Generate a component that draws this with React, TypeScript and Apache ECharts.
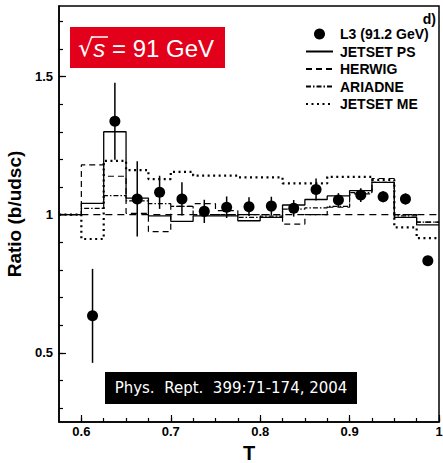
import { useEffect, useRef } from "react";
import * as echarts from "echarts";

// Histogram bin edges in T (17 bins, first one below 0.6 is the flat part)
const binEdges = [0.575, 0.6, 0.625, 0.65, 0.675, 0.7, 0.725, 0.75, 0.775, 0.8, 0.825, 0.85, 0.875, 0.9, 0.925, 0.95, 0.975, 1.0];

// Model predictions per bin
const jetsetPS = [1.0, 1.041, 1.30, 1.060, 0.996, 0.976, 0.996, 0.996, 0.978, 0.99, 1.035, 1.055, 1.068, 1.087, 1.117, 0.99, 0.963];
const herwig = [1.0, 1.18, 1.139, 1.005, 0.939, 1.03, 1.04, 1.015, 1.0, 1.0, 0.966, 1.0, 1.027, 1.075, 1.131, 1.0, 0.973];
const ariadne = [1.0, 1.023, 1.069, 1.05, 1.04, 1.03, 1.0, 1.0, 0.99, 0.995, 1.02, 1.025, 1.03, 1.08, 1.117, 0.996, 0.973];
const jetsetME = [1.0, 0.912, 1.195, 1.161, 1.129, 1.155, 1.141, 1.141, 1.135, 1.135, 1.113, 1.113, 1.137, 1.137, 1.126, 0.954, 0.915];

// L3 data points
const tCenters = [0.6125, 0.6375, 0.6625, 0.6875, 0.7125, 0.7375, 0.7625, 0.7875, 0.8125, 0.8375, 0.8625, 0.8875, 0.9125, 0.9375, 0.9625, 0.9875];
const l3 = [0.634, 1.338, 1.057, 1.081, 1.057, 1.012, 1.027, 1.029, 1.031, 1.023, 1.091, 1.053, 1.071, 1.065, 1.057, 0.833];
const l3Err = [0.17, 0.139, 0.136, 0.06, 0.06, 0.042, 0.039, 0.034, 0.034, 0.03, 0.04, 0.025, 0.025, 0.02, 0.02, 0.015];

// Axis ticks
const xMajorTicks = [0.6, 0.7, 0.8, 0.9, 1.0];
const xMinorTicks = [0.6, 0.625, 0.65, 0.675, 0.7, 0.725, 0.75, 0.775, 0.8, 0.825, 0.85, 0.875, 0.9, 0.925, 0.95, 0.975, 1.0];
const yMajorTicks = [0.5, 1.0, 1.5];
const yMinorTicks = [0.3, 0.4, 0.5, 0.6, 0.7, 0.8, 0.9, 1.0, 1.1, 1.2, 1.3, 1.4, 1.5, 1.6, 1.7];

const seriesNames = ["L3 (91.2 GeV)", "JETSET PS", "HERWIG", "ARIADNE", "JETSET ME"];

const FONT = "Liberation Sans";

function stepData(vals: number[]) {
  return binEdges.map((e, i) => [e, vals[Math.min(i, vals.length - 1)]]);
}

const fmt = (v: number) => String(parseFloat(Number(v).toFixed(3)));

export default function App() {
  const ref = useRef<HTMLDivElement>(null);
  useEffect(() => {
    if (!ref.current) return;
    const chart = echarts.init(ref.current, null, { renderer: "svg" });
    const stepSeries = (name: string, vals: number[], type: any, width = 1.2) => ({
      name,
      type: "line",
      step: "end",
      symbol: "none",
      data: stepData(vals),
      lineStyle: { color: "#000", width, type },
      itemStyle: { color: "#000" },
      silent: true,
      z: 3,
    });
    const option: any = {
      animation: false,
      backgroundColor: "#fff",
      grid: {
        left: 59,
        right: 4,
        top: 6,
        bottom: 41,
        show: true,
        borderColor: "#000",
        borderWidth: 1.5,
        containLabel: false,
        outerBoundsMode: "none",
      },
      legend: {
        data: seriesNames.map((n, i) =>
          i === 0 ? { name: n, itemStyle: { opacity: 1 } } : { name: n, itemStyle: { opacity: 0 } }
        ),
        orient: "vertical",
        left: 300,
        top: 22,
        itemWidth: 27,
        itemHeight: 11,
        itemGap: 3.5,
        selectedMode: false,
        textStyle: { fontFamily: FONT, fontWeight: "bold", fontSize: 14, color: "#000", padding: [0, 0, 0, 2] },
      },
      xAxis: [
        {
          type: "value",
          min: 0.575,
          max: 1.0,
          position: "bottom",
          name: "T",
          nameLocation: "middle",
          nameGap: 18,
          nameTextStyle: { fontFamily: FONT, fontWeight: "bold", fontSize: 20, lineHeight: 20, color: "#000" },
          axisLine: { show: true, onZero: false, lineStyle: { color: "#000", width: 1.5 } },
          axisTick: { show: true, inside: true, length: 7, customValues: xMajorTicks, lineStyle: { color: "#000", width: 1.2 } },
          axisLabel: { show: true, customValues: xMajorTicks, formatter: fmt, color: "#000", fontFamily: FONT, fontWeight: "bold", fontSize: 13, margin: 3 },
          splitLine: { show: false },
        },
        {
          type: "value",
          min: 0.575,
          max: 1.0,
          position: "bottom",
          axisLine: { show: false, onZero: false },
          axisTick: { show: true, inside: true, length: 4, customValues: xMinorTicks, lineStyle: { color: "#000", width: 1.2 } },
          axisLabel: { show: false },
          splitLine: { show: false },
        },
      ],
      yAxis: [
        {
          type: "value",
          min: 0.25,
          max: 1.755,
          position: "left",
          name: "Ratio (b/udsc)",
          nameLocation: "middle",
          nameGap: 32,
          nameTextStyle: { fontFamily: FONT, fontWeight: "bold", fontSize: 19, color: "#000" },
          axisLine: { show: true, onZero: false, lineStyle: { color: "#000", width: 1.5 } },
          axisTick: { show: true, inside: true, length: 7, customValues: yMajorTicks, lineStyle: { color: "#000", width: 1.2 } },
          axisLabel: { show: true, customValues: yMajorTicks, formatter: fmt, color: "#000", fontFamily: FONT, fontWeight: "bold", fontSize: 13, margin: 6 },
          splitLine: { show: false },
        },
        {
          type: "value",
          min: 0.25,
          max: 1.755,
          position: "left",
          axisLine: { show: false, onZero: false },
          axisTick: { show: true, inside: true, length: 4, customValues: yMinorTicks, lineStyle: { color: "#000", width: 1.2 } },
          axisLabel: { show: false },
          splitLine: { show: false },
        },
      ],
      series: [
        {
          name: "ref",
          type: "line",
          symbol: "none",
          data: [[0.6, 1.0], [1.0, 1.0]],
          lineStyle: { color: "#000", width: 1.2, type: [7, 5] },
          silent: true,
          z: 2,
        },
        stepSeries("JETSET PS", jetsetPS, "solid", 1.3),
        stepSeries("HERWIG", herwig, [6, 4], 1.2),
        stepSeries("ARIADNE", ariadne, [5, 2, 1.5, 2], 1.2),
        stepSeries("JETSET ME", jetsetME, [2, 3.5], 2.2),
        {
          name: "errors",
          type: "custom",
          data: tCenters.map((t, i) => [t, l3[i], l3Err[i]]),
          encode: { x: 0, y: 1 },
          silent: true,
          z: 4,
          renderItem: (params: any, api: any) => {
            const x = api.value(0);
            const y = api.value(1);
            const e = api.value(2);
            const p1 = api.coord([x, y - e]);
            const p2 = api.coord([x, y + e]);
            return {
              type: "line",
              shape: { x1: p1[0], y1: p1[1], x2: p2[0], y2: p2[1] },
              style: { stroke: "#000", lineWidth: 1.5 },
            };
          },
        },
        {
          name: "L3 (91.2 GeV)",
          type: "scatter",
          symbol: "circle",
          symbolSize: 11,
          data: tCenters.map((t, i) => [t, l3[i]]),
          itemStyle: { color: "#000", opacity: 1 },
          silent: true,
          z: 5,
        },
      ],
      graphic: [
        { type: "rect", shape: { x: 70, y: 27, width: 155, height: 41 }, style: { fill: "#e2001a" }, z: 10 },
        {
          type: "text",
          x: 78,
          y: 48,
          z: 11,
          style: {
            text: "{r|√}{s|s} = 91 GeV",
            fill: "#fff",
            fontFamily: FONT,
            fontSize: 24,
            verticalAlign: "middle",
            rich: {
              r: { fontFamily: "DejaVu Sans", fontSize: 24, fill: "#fff" },
              s: { fontFamily: FONT, fontStyle: "italic", fontSize: 24, fill: "#fff" },
            },
          },
        },
        { type: "line", shape: { x1: 91, y1: 37, x2: 108, y2: 37 }, style: { stroke: "#fff", lineWidth: 1.5 }, z: 11 },
        { type: "rect", shape: { x: 105, y: 372, width: 252, height: 32 }, style: { fill: "#000" }, z: 10 },
        {
          type: "text",
          x: 231,
          y: 388,
          z: 11,
          style: {
            text: "Phys.  Rept.  399:71-174, 2004",
            fill: "#fff",
            fontFamily: "DejaVu Sans",
            fontSize: 15,
            align: "center",
            verticalAlign: "middle",
          },
        },
        {
          type: "text",
          x: 436,
          y: 19,
          z: 11,
          style: { text: "d)", fill: "#000", fontFamily: FONT, fontWeight: "bold", fontSize: 14, lineHeight: 13, align: "right", verticalAlign: "middle" },
        },
      ],
    };
    chart.setOption(option);
    return () => chart.dispose();
  }, []);
  return <div ref={ref} style={{ position: "fixed", left: 0, top: 0, width: 443, height: 463, background: "#fff" }} />;
}
